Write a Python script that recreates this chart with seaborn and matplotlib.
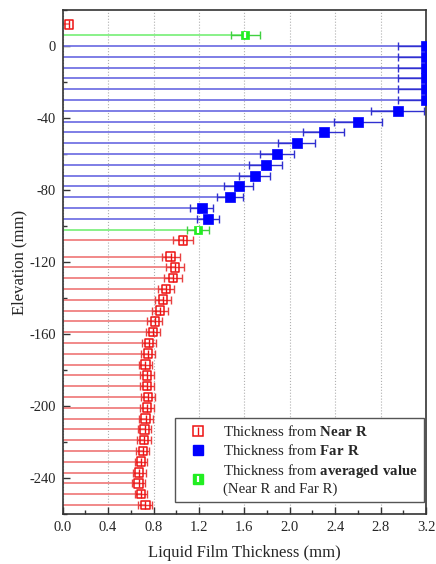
import numpy as np
import pandas as pd
import matplotlib
matplotlib.use('Agg')
import matplotlib.pyplot as plt
import seaborn as sns
from matplotlib.lines import Line2D
from matplotlib.ticker import MultipleLocator, FormatStrFormatter

# film thickness from the near receiver (mm)
near_elev = [12, -108, -117, -123, -129, -135, -141, -147, -153, -159, -165, -171, -177,
             -183, -189, -195, -201, -207, -213, -219, -225, -231, -237, -243, -249, -255]
near_thk = [0.056, 1.06, 0.952, 0.988, 0.97, 0.911, 0.885, 0.859, 0.812, 0.797, 0.762, 0.75, 0.727,
            0.744, 0.744, 0.75, 0.744, 0.73, 0.721, 0.718, 0.706, 0.689, 0.674, 0.668, 0.691, 0.727]
near_err = [0.0, 0.087, 0.077, 0.08, 0.078, 0.072, 0.072, 0.07, 0.065, 0.064, 0.062, 0.063, 0.058,
            0.06, 0.062, 0.064, 0.064, 0.062, 0.06, 0.062, 0.058, 0.056, 0.056, 0.057, 0.056, 0.06]

# film thickness from the far receiver (mm)
far_elev = [0, -6, -12, -18, -24, -30, -36, -42, -48, -54, -60, -66, -72, -78, -84, -90, -96]
far_thk = [3.2, 3.2, 3.2, 3.2, 3.2, 3.2, 2.95, 2.60, 2.30, 2.06, 1.89, 1.79, 1.69, 1.55, 1.47, 1.225, 1.28]
far_err = [0.25, 0.25, 0.25, 0.25, 0.25, 0.25, 0.23, 0.21, 0.18, 0.165, 0.15, 0.145, 0.135, 0.125,
           0.115, 0.1, 0.1]

# averaged value
avg_elev = [6, -102]
avg_thk = [1.61, 1.19]
avg_err = [0.127, 0.095]

df = pd.concat([
    pd.DataFrame({'elev': near_elev, 'thk': near_thk, 'err': near_err, 'src': 'near'}),
    pd.DataFrame({'elev': far_elev, 'thk': far_thk, 'err': far_err, 'src': 'far'}),
    pd.DataFrame({'elev': avg_elev, 'thk': avg_thk, 'err': avg_err, 'src': 'avg'}),
], ignore_index=True)

sns.set_style('ticks')
plt.rcParams['font.family'] = ['Liberation Serif', 'DejaVu Serif']
plt.rcParams['axes.unicode_minus'] = False
plt.rcParams['mathtext.fontset'] = 'custom'
plt.rcParams['mathtext.rm'] = 'Liberation Serif'
plt.rcParams['mathtext.bf'] = 'Liberation Serif:bold'

fig = plt.figure(figsize=(4.36, 5.64), dpi=100)
ax = fig.add_axes([0.1438, 0.0887, 0.8332, 0.8936])

ax.grid(axis='x', which='major', linestyle=':', color='#b0b0b0', linewidth=0.8, zorder=0)

styles = {
    'near': dict(stem='#f08080', ebar='#e84040'),
    'far': dict(stem='#7474e4', ebar='#3030d0'),
    'avg': dict(stem='#80f080', ebar='#40d040'),
}

for src, st in styles.items():
    sub = df[df['src'] == src]
    ax.hlines(sub['elev'], 0, sub['thk'], color=st['stem'], lw=1.3, zorder=1)
    e = sub[sub['err'] > 0]
    ax.errorbar(e['thk'], e['elev'], xerr=e['err'], fmt='none', ecolor=st['ebar'],
                elinewidth=1.0, capsize=3, capthick=1.0, zorder=2)

near = df[df['src'] == 'near']
sns.scatterplot(data=near, x='thk', y='elev', marker='s', s=38, color='#ee1111',
                facecolor='none', edgecolor='#ee1111', linewidth=1.1, ax=ax, legend=False, zorder=4)
sns.scatterplot(data=near, x='thk', y='elev', marker='|', s=34, color='#ee1111',
                linewidth=1.0, ax=ax, legend=False, zorder=4)

far = df[df['src'] == 'far']
sns.scatterplot(data=far, x='thk', y='elev', marker='s', s=44, color='#0000ff',
                edgecolor='#0000ff', linewidth=0.5, ax=ax, legend=False, zorder=4)

avg = df[df['src'] == 'avg']
sns.scatterplot(data=avg, x='thk', y='elev', marker='s', s=36, color='#22ee22',
                edgecolor='#22ee22', linewidth=0.5, ax=ax, legend=False, zorder=4)
sns.scatterplot(data=avg, x='thk', y='elev', marker='|', s=14, color='white',
                linewidth=1.6, ax=ax, legend=False, zorder=5)

ax.set_xlim(0, 3.2)
ax.set_ylim(-260, 20)
ax.xaxis.set_major_locator(MultipleLocator(0.4))
ax.xaxis.set_minor_locator(MultipleLocator(0.2))
ax.yaxis.set_major_locator(MultipleLocator(40))
ax.yaxis.set_minor_locator(MultipleLocator(20))
ax.xaxis.set_major_formatter(FormatStrFormatter('%.1f'))
ax.tick_params(axis='both', which='major', direction='in', length=5, width=1, labelsize=10.5,
               color='#333333', top=False, right=False, pad=5)
ax.tick_params(axis='both', which='minor', direction='in', length=3, width=1,
               color='#333333', top=False, right=False)
for sp in ax.spines.values():
    sp.set_color('#333333')
    sp.set_linewidth(1.2)

ax.set_xlabel('Liquid Film Thickness (mm)', fontsize=12, labelpad=8)
ax.set_ylabel('Elevation (mm)', fontsize=12, labelpad=1)

h_near = (Line2D([], [], ls='', marker='s', ms=6.5, mfc='none', mec='#ee1111', mew=1.1),
          Line2D([], [], ls='', marker='|', ms=6, color='#ee1111', mew=1.0))
h_far = Line2D([], [], ls='', marker='s', ms=7, color='#0000ff')
h_avg = (Line2D([], [], ls='', marker='s', ms=6.5, color='#22ee22'),
         Line2D([], [], ls='', marker='|', ms=4, color='white', mew=1.6))
labels = ['Thickness from $\\mathbf{Near\\ R}$',
          'Thickness from $\\mathbf{Far\\ R}$',
          'Thickness from $\\mathbf{averaged\\ value}$\n(Near R and Far R)']
leg = ax.legend([h_near, h_far, h_avg], labels, loc='lower right',
                bbox_to_anchor=(0.995, 0.024), borderaxespad=0, fontsize=10.7,
                frameon=True, fancybox=False, edgecolor='#555555', framealpha=1,
                handlelength=2.3, handletextpad=0.55, labelspacing=0.25,
                borderpad=0.4, alignment='left')
leg.get_frame().set_linewidth(1.0)
for t in leg.get_texts():
    t.set_linespacing(1.25)

fig.savefig('out.png', dpi=100)
